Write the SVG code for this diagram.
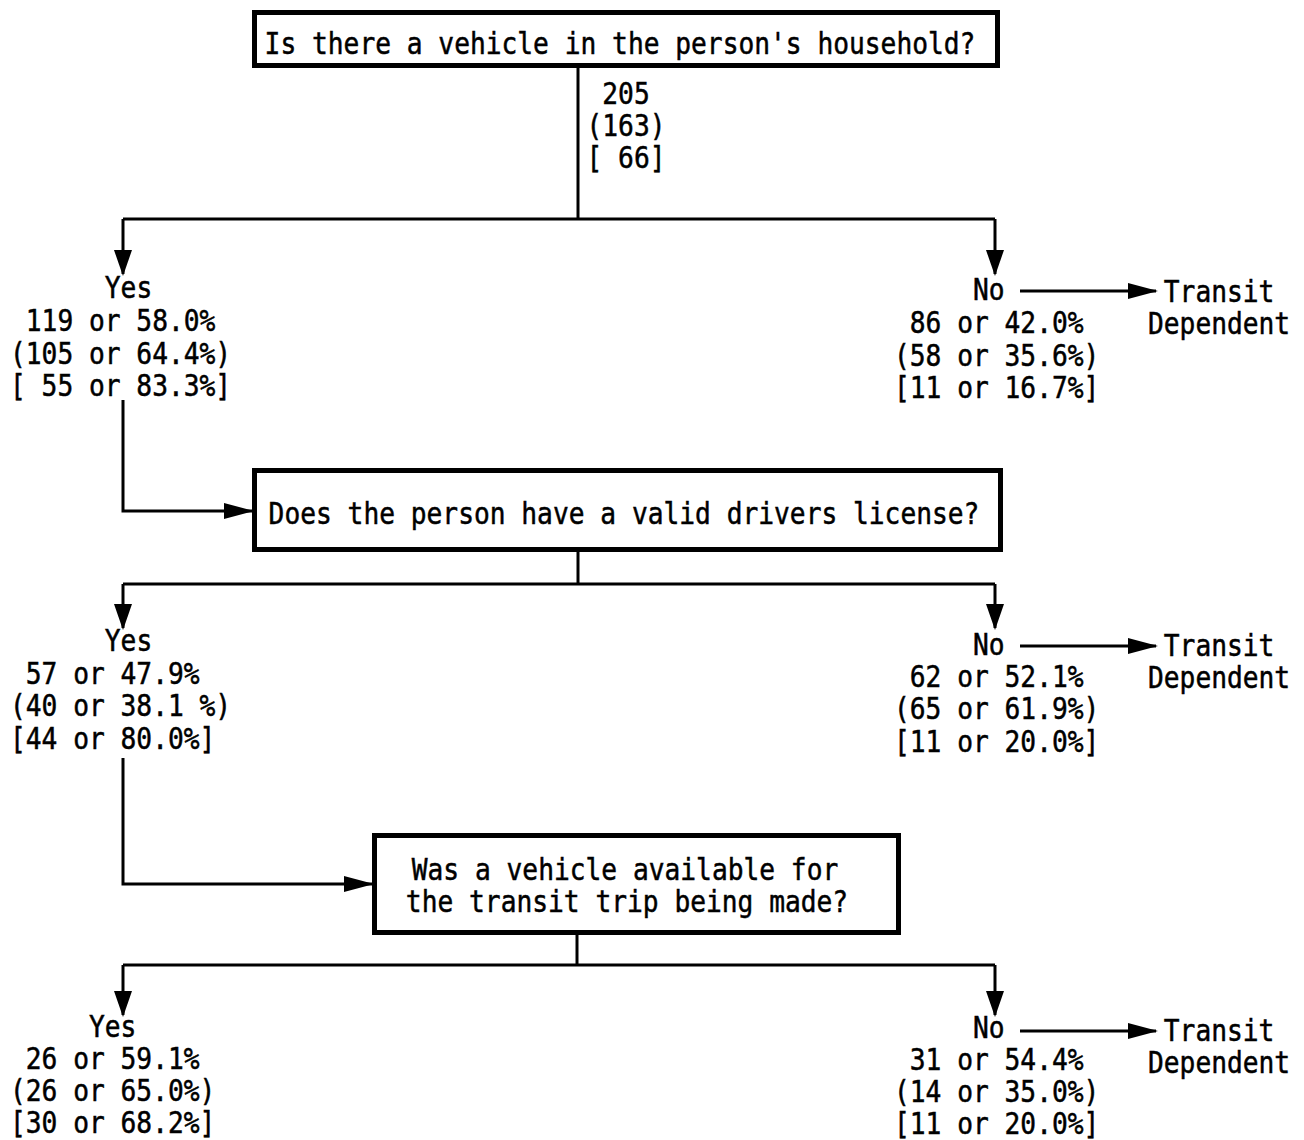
<svg xmlns="http://www.w3.org/2000/svg" width="1304" height="1140" viewBox="0 0 1304 1140">
<style>
.t{font-family:"DejaVu Sans Mono","Liberation Mono",monospace;font-size:30px;fill:#000;stroke:#000;stroke-width:0.5;}
.m{text-anchor:middle;}
.box{fill:#fff;stroke:#000;stroke-width:5;}
.ln{fill:none;stroke:#000;stroke-width:3;}
</style>
<defs>
<marker id="ad" markerUnits="userSpaceOnUse" markerWidth="26" markerHeight="18" refX="24" refY="9" orient="auto">
<path d="M0,0 L26,9 L0,18 z" fill="#000"/>
</marker>
<marker id="ah" markerUnits="userSpaceOnUse" markerWidth="30" markerHeight="16" refX="28" refY="8" orient="auto">
<path d="M0,0 L30,8 L0,16 z" fill="#000"/>
</marker>
</defs>
<rect width="1304" height="1140" fill="#fff"/>

<g id="connectors">
<path class="ln" d="M578,66 V219"/>
<path class="ln" d="M123,219 H995"/>
<path class="ln" d="M123,219 V274" marker-end="url(#ad)"/>
<path class="ln" d="M995,219 V274" marker-end="url(#ad)"/>
<path class="ln" d="M1020,291 H1156" marker-end="url(#ah)"/>
<path class="ln" d="M123,400 V511 H252" marker-end="url(#ah)"/>

<path class="ln" d="M578,550 V584"/>
<path class="ln" d="M123,584 H995"/>
<path class="ln" d="M123,584 V628" marker-end="url(#ad)"/>
<path class="ln" d="M995,584 V628" marker-end="url(#ad)"/>
<path class="ln" d="M1020,646 H1156" marker-end="url(#ah)"/>
<path class="ln" d="M123,758 V884 H372" marker-end="url(#ah)"/>

<path class="ln" d="M577,933 V965"/>
<path class="ln" d="M123,965 H995"/>
<path class="ln" d="M123,965 V1015" marker-end="url(#ad)"/>
<path class="ln" d="M995,965 V1015" marker-end="url(#ad)"/>
<path class="ln" d="M1020,1031 H1156" marker-end="url(#ah)"/>
</g>

<g id="q1">
<rect class="box" x="254.5" y="12.5" width="743" height="53"/>
<text class="t m" transform="translate(620,54) scale(0.875,1)">Is there a vehicle in the person's household?</text>
</g>
<g id="total">
<text class="t m" transform="translate(626,104) scale(0.875,1)">205</text>
<text class="t m" transform="translate(626,136) scale(0.875,1)">(163)</text>
<text class="t m" transform="translate(626,168) scale(0.875,1)">[ 66]</text>
</g>

<g id="yes1">
<text class="t" transform="translate(104.8,298) scale(0.875,1)">Yes</text>
<text class="t" transform="translate(25.8,331) scale(0.875,1)">119 or 58.0%</text>
<text class="t" transform="translate(10,364) scale(0.875,1)">(105 or 64.4%)</text>
<text class="t" transform="translate(10,396) scale(0.875,1)">[ 55 or 83.3%]</text>
</g>
<g id="no1">
<text class="t" transform="translate(973,300) scale(0.875,1)">No</text>
<text class="t" transform="translate(909.8,333) scale(0.875,1)">86 or 42.0%</text>
<text class="t" transform="translate(894,366) scale(0.875,1)">(58 or 35.6%)</text>
<text class="t" transform="translate(894,398) scale(0.875,1)">[11 or 16.7%]</text>
</g>
<g id="td1">
<text class="t" transform="translate(1163.8,302) scale(0.875,1)">Transit</text>
<text class="t" transform="translate(1148,334) scale(0.875,1)">Dependent</text>
</g>

<g id="q2">
<rect class="box" x="254.5" y="470.5" width="746" height="79"/>
<text class="t m" transform="translate(624,524) scale(0.875,1)">Does the person have a valid drivers license?</text>
</g>
<g id="yes2">
<text class="t" transform="translate(104.8,651) scale(0.875,1)">Yes</text>
<text class="t" transform="translate(25.8,684) scale(0.875,1)">57 or 47.9%</text>
<text class="t" transform="translate(10,716) scale(0.875,1)">(40 or 38.1 %)</text>
<text class="t" transform="translate(10,749) scale(0.875,1)">[44 or 80.0%]</text>
</g>
<g id="no2">
<text class="t" transform="translate(973,655) scale(0.875,1)">No</text>
<text class="t" transform="translate(909.8,687) scale(0.875,1)">62 or 52.1%</text>
<text class="t" transform="translate(894,719) scale(0.875,1)">(65 or 61.9%)</text>
<text class="t" transform="translate(894,752) scale(0.875,1)">[11 or 20.0%]</text>
</g>
<g id="td2">
<text class="t" transform="translate(1163.8,656) scale(0.875,1)">Transit</text>
<text class="t" transform="translate(1148,688) scale(0.875,1)">Dependent</text>
</g>

<g id="q3">
<rect class="box" x="374.5" y="835.5" width="524" height="97"/>
<text class="t m" transform="translate(625,880) scale(0.875,1)">Was a vehicle available for</text>
<text class="t m" transform="translate(627,912) scale(0.875,1)">the transit trip being made?</text>
</g>
<g id="yes3">
<text class="t" transform="translate(89,1037) scale(0.875,1)">Yes</text>
<text class="t" transform="translate(25.8,1069) scale(0.875,1)">26 or 59.1%</text>
<text class="t" transform="translate(10,1101) scale(0.875,1)">(26 or 65.0%)</text>
<text class="t" transform="translate(10,1133) scale(0.875,1)">[30 or 68.2%]</text>
</g>
<g id="no3">
<text class="t" transform="translate(973,1038) scale(0.875,1)">No</text>
<text class="t" transform="translate(909.8,1070) scale(0.875,1)">31 or 54.4%</text>
<text class="t" transform="translate(894,1102) scale(0.875,1)">(14 or 35.0%)</text>
<text class="t" transform="translate(894,1134) scale(0.875,1)">[11 or 20.0%]</text>
</g>
<g id="td3">
<text class="t" transform="translate(1163.8,1041) scale(0.875,1)">Transit</text>
<text class="t" transform="translate(1148,1073) scale(0.875,1)">Dependent</text>
</g>
</svg>
